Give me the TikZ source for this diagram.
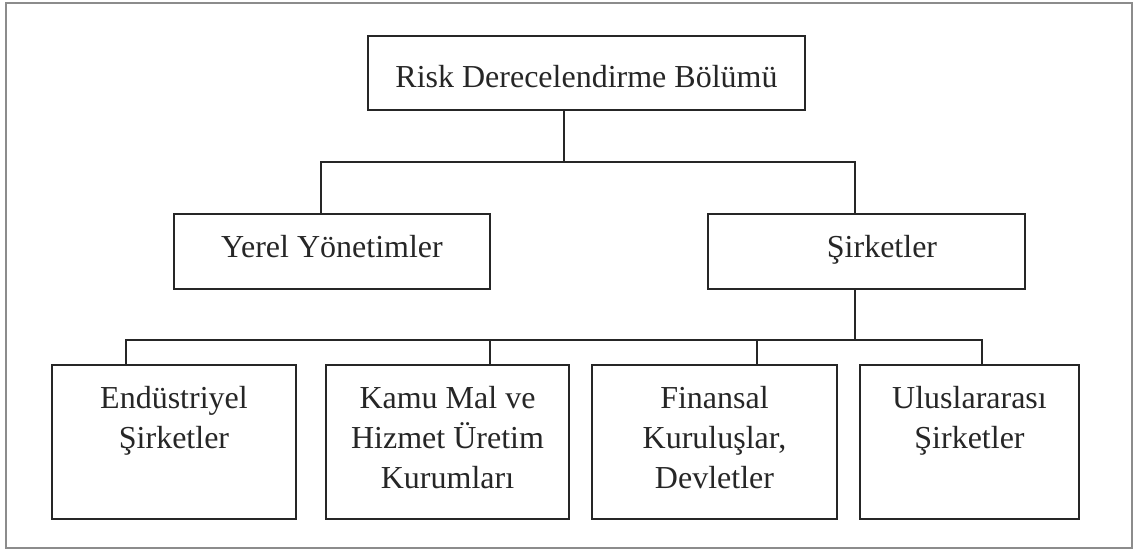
\documentclass[tikz,border=0pt]{standalone}
\usepackage{fontspec}
\setmainfont{Liberation Serif}
\definecolor{ink}{RGB}{38,38,38}
\definecolor{framec}{RGB}{140,140,140}
\newcommand{\bxt}[4]{\parbox[c][#1][t]{#2}{\centering\rule{0pt}{#3}#4}}
\begin{document}
\begin{tikzpicture}[x=1pt,y=-1pt,
  orgbox/.style={draw=ink,line width=2.8pt,inner sep=0pt,outer sep=0pt,text=ink,
    font=\fontsize{32}{40}\selectfont},
  link/.style={draw=ink,line width=2.3pt},
  frame/.style={draw=framec,line width=1.8pt}]
\useasboundingbox (0,0) rectangle (1135,551);
\draw[frame] (6,3) rectangle (1132,548);

\node[orgbox] (top) at (586.5,73) {\bxt{74pt}{437pt}{52pt}{Risk Derecelendirme Bölümü}};
\node[orgbox] (yerel) at (332,251.5) {\bxt{75pt}{316pt}{43pt}{Yerel Yönetimler}};
\node[orgbox] (sirk) at (866.5,251.5) {\bxt{75pt}{317pt}{43pt}{\hspace*{31pt}Şirketler}};

\node[orgbox] (endu) at (174,442) {\bxt{154pt}{244pt}{43pt}{Endüstriyel\\Şirketler}};
\node[orgbox] (kamu) at (447.5,442) {\bxt{154pt}{243pt}{43pt}{Kamu Mal ve\\Hizmet Üretim\\Kurumları}};
\node[orgbox] (fin) at (714.5,442) {\bxt{154pt}{245pt}{43pt}{Finansal\\Kuruluşlar,\\Devletler}};
\node[orgbox] (ulus) at (969.5,442) {\bxt{154pt}{219pt}{43pt}{Uluslararası\\Şirketler}};

\coordinate (j1) at (564,162);
\coordinate (yl) at (321,162);
\coordinate (sl) at (855,162);
\coordinate (b0) at (855,340);
\coordinate (e1) at (126,340);
\coordinate (k1) at (490,340);
\coordinate (f1) at (757,340);
\coordinate (u1) at (982,340);

\draw[link] (top.south -| j1) -- (j1);
\draw[link] (yerel.north -| yl) -- (yl) -- (sl) -- (sirk.north -| sl);
\draw[link] (sirk.south -| b0) -- (b0);
\draw[link] (endu.north -| e1) -- (e1) -- (u1) -- (ulus.north -| u1);
\draw[link] (kamu.north -| k1) -- (k1);
\draw[link] (fin.north -| f1) -- (f1);
\end{tikzpicture}
\end{document}
